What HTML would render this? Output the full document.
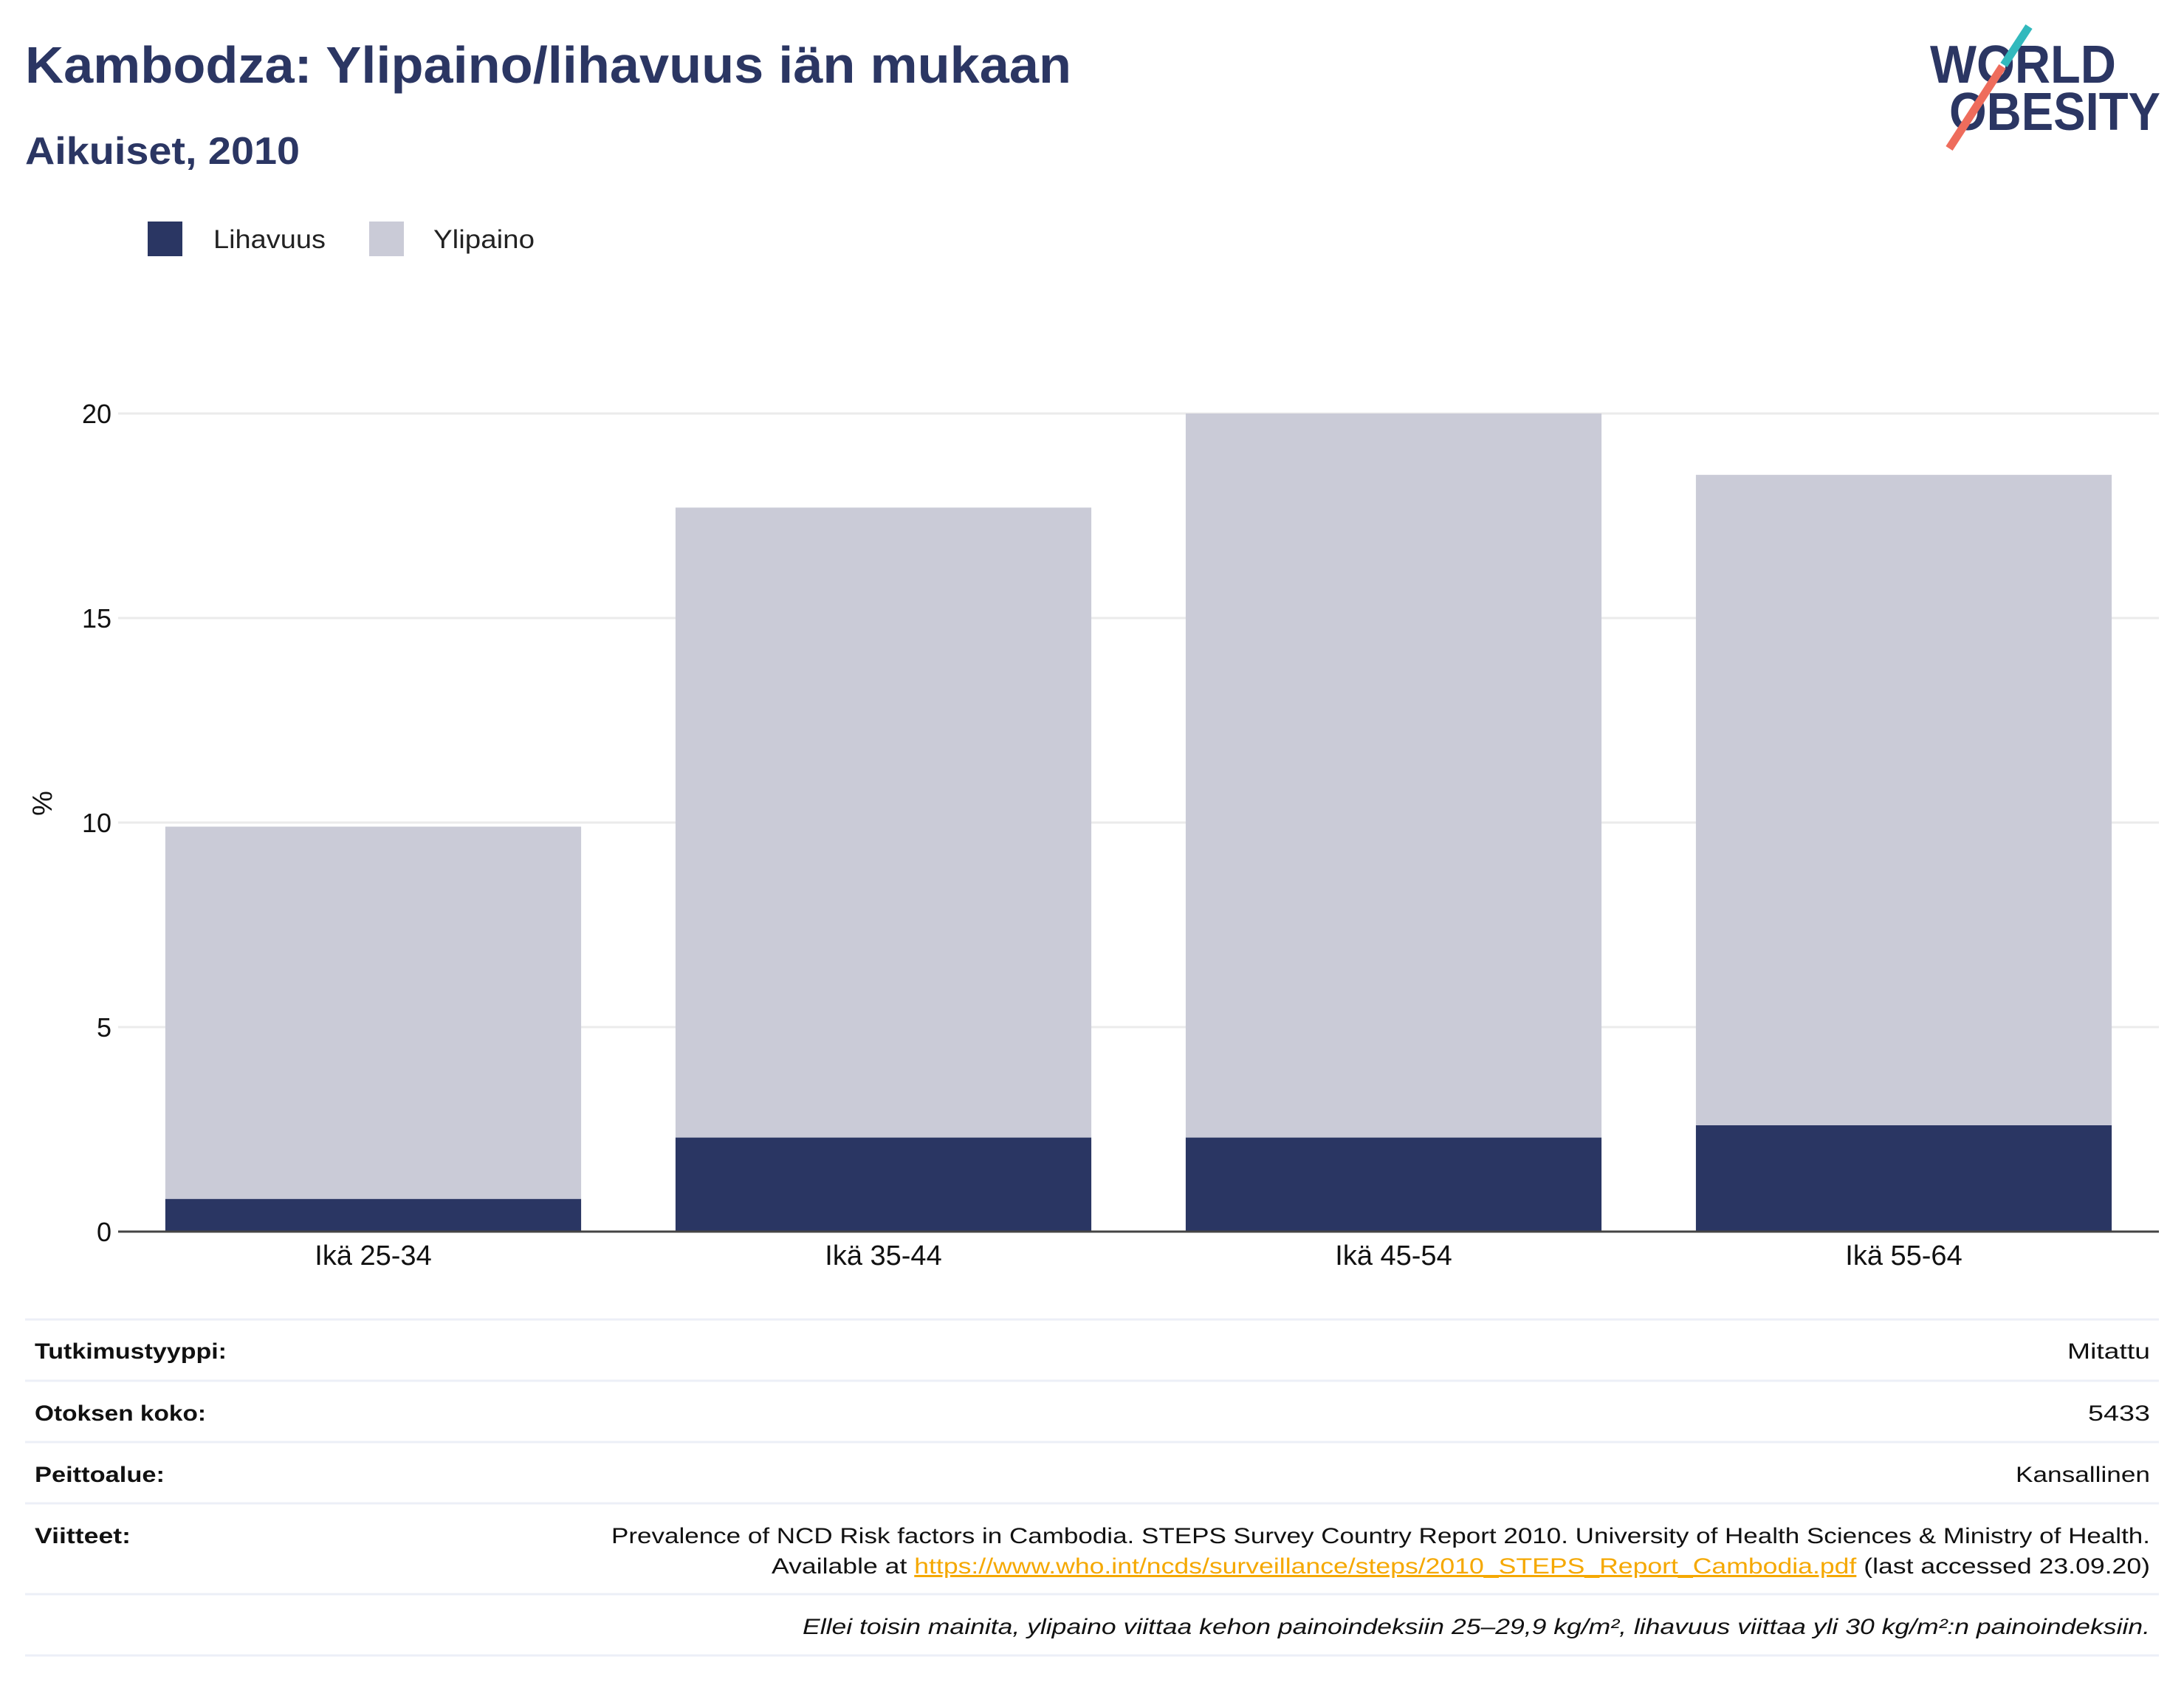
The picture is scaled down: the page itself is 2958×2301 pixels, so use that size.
<!DOCTYPE html>
<html><head><meta charset="utf-8">
<style>
html,body{margin:0;padding:0;background:#fff;}
body{width:2958px;height:2296px;position:relative;overflow:hidden;font-family:"Liberation Sans","DejaVu Sans",sans-serif;}
</style></head>
<body>
<svg id="chart" width="2958" height="2296" viewBox="0 0 2958 2296" xmlns="http://www.w3.org/2000/svg" font-family="Liberation Sans, DejaVu Sans, sans-serif">
  <text x="34" y="112" font-size="70" font-weight="bold" fill="#2b3663" textLength="1417" lengthAdjust="spacingAndGlyphs">Kambodza: Ylipaino/lihavuus iän mukaan</text>
  <text x="34" y="222" font-size="52" font-weight="bold" fill="#2b3663" textLength="372" lengthAdjust="spacingAndGlyphs">Aikuiset, 2010</text>

  <g>
    <text x="2614" y="112" font-size="72" font-weight="bold" fill="#2b3663" textLength="252" lengthAdjust="spacingAndGlyphs">WORLD</text>
    <text x="2640" y="176" font-size="72" font-weight="bold" fill="#2b3663" textLength="286" lengthAdjust="spacingAndGlyphs">OBESITY</text>
    <line x1="2748" y1="36" x2="2714" y2="88" stroke="#32b9bd" stroke-width="11"/>
    <line x1="2712" y1="90" x2="2640" y2="201" stroke="#ee6c5c" stroke-width="11"/>
  </g>

  <g>
    <rect x="200" y="300" width="47" height="47" fill="#2a3663"/>
    <text x="289" y="336" font-size="35" fill="#222" textLength="152" lengthAdjust="spacingAndGlyphs">Lihavuus</text>
    <rect x="500" y="300" width="47" height="47" fill="#cacbd7"/>
    <text x="587" y="336" font-size="35" fill="#222" textLength="137" lengthAdjust="spacingAndGlyphs">Ylipaino</text>
  </g>

  <g id="grid"></g>
  <g id="bars"></g>
  <g id="axes"></g>

  <g font-size="30" fill="#111">
    <g stroke="#eceff7" stroke-width="3">
      <line x1="34" y1="1787" x2="2924" y2="1787"/>
      <line x1="34" y1="1870" x2="2924" y2="1870"/>
      <line x1="34" y1="1953" x2="2924" y2="1953"/>
      <line x1="34" y1="2036" x2="2924" y2="2036"/>
      <line x1="34" y1="2159" x2="2924" y2="2159"/>
      <line x1="34" y1="2242" x2="2924" y2="2242"/>
    </g>
    <text x="47" y="1840" font-weight="bold" textLength="260" lengthAdjust="spacingAndGlyphs">Tutkimustyyppi:</text>
    <text x="2912" y="1840" text-anchor="end" textLength="112" lengthAdjust="spacingAndGlyphs">Mitattu</text>
    <text x="47" y="1924" font-weight="bold" textLength="232" lengthAdjust="spacingAndGlyphs">Otoksen koko:</text>
    <text x="2912" y="1924" text-anchor="end" textLength="84" lengthAdjust="spacingAndGlyphs">5433</text>
    <text x="47" y="2007" font-weight="bold" textLength="176" lengthAdjust="spacingAndGlyphs">Peittoalue:</text>
    <text x="2912" y="2007" text-anchor="end" textLength="182" lengthAdjust="spacingAndGlyphs">Kansallinen</text>
    <text x="47" y="2090" font-weight="bold" textLength="130" lengthAdjust="spacingAndGlyphs">Viitteet:</text>
    <text x="2912" y="2090" text-anchor="end" textLength="2084" lengthAdjust="spacingAndGlyphs">Prevalence of NCD Risk factors in Cambodia. STEPS Survey Country Report 2010. University of Health Sciences &amp; Ministry of Health.</text>
    <text x="2912" y="2131" text-anchor="end" textLength="1867" lengthAdjust="spacingAndGlyphs">Available at <tspan fill="#f5a800" text-decoration="underline">https://www.who.int/ncds/surveillance/steps/2010_STEPS_Report_Cambodia.pdf</tspan> (last accessed 23.09.20)</text>
    <text x="2912" y="2213" text-anchor="end" font-style="italic" textLength="1825" lengthAdjust="spacingAndGlyphs">Ellei toisin mainita, ylipaino viittaa kehon painoindeksiin 25–29,9 kg/m², lihavuus viittaa yli 30 kg/m²:n painoindeksiin.</text>
  </g>
</svg>
<script>
const categories = ["Ikä 25-34","Ikä 35-44","Ikä 45-54","Ikä 55-64"];
const obesity = [0.8, 2.3, 2.3, 2.6];
const overweight = [9.1, 15.4, 17.7, 15.9];
const yTicks = [0, 5, 10, 15, 20];

const NS = "http://www.w3.org/2000/svg";
const plotLeft = 160, plotRight = 2924, plotTop = 560, plotBottom = 1668, yMax = 20;
const y = v => plotBottom - (v / yMax) * (plotBottom - plotTop);
const band = (plotRight - plotLeft) / categories.length;
const barW = band * 0.815;
const xc = i => plotLeft + band * (i + 0.5);
function mk(tag, attrs, parent) {
  const e = document.createElementNS(NS, tag);
  for (const k in attrs) e.setAttribute(k, attrs[k]);
  parent.appendChild(e);
  return e;
}
const grid = document.getElementById('grid'), bars = document.getElementById('bars'), axes = document.getElementById('axes');
yTicks.forEach(t => {
  if (t > 0) {
    const l = mk('line', {x1: plotLeft, x2: plotRight, y1: y(t), y2: y(t), stroke: '#ebebeb', 'stroke-width': 3}, grid);
    
    
  }
  const tx = mk('text', {x: 151, y: y(t) + 13, 'text-anchor': 'end', 'font-size': 36, fill: '#111'}, axes);
  tx.textContent = t;
  
  
});
categories.forEach((c, i) => {
  const ob = mk('rect', {x: xc(i) - barW / 2, width: barW, y: y(obesity[i]), height: y(0) - y(obesity[i]), fill: '#2a3663'}, bars);
  
  
  const top = obesity[i] + overweight[i];
  const ow = mk('rect', {x: xc(i) - barW / 2, width: barW, y: y(top), height: y(obesity[i]) - y(top), fill: '#cacbd7'}, bars);
  
  
  const lb = mk('text', {x: xc(i), y: 1713, 'text-anchor': 'middle', 'font-size': 38, fill: '#111'}, axes);
  lb.textContent = c;
  
  
});
const ax = mk('line', {x1: plotLeft, x2: plotRight, y1: y(0), y2: y(0), stroke: '#444', 'stroke-width': 3}, axes);


const yt = mk('text', {x: 0, y: 0, transform: 'translate(70,1088) rotate(-90)', 'text-anchor': 'middle', 'font-size': 38, fill: '#111'}, axes);
yt.textContent = '%';


</script>
</body></html>
